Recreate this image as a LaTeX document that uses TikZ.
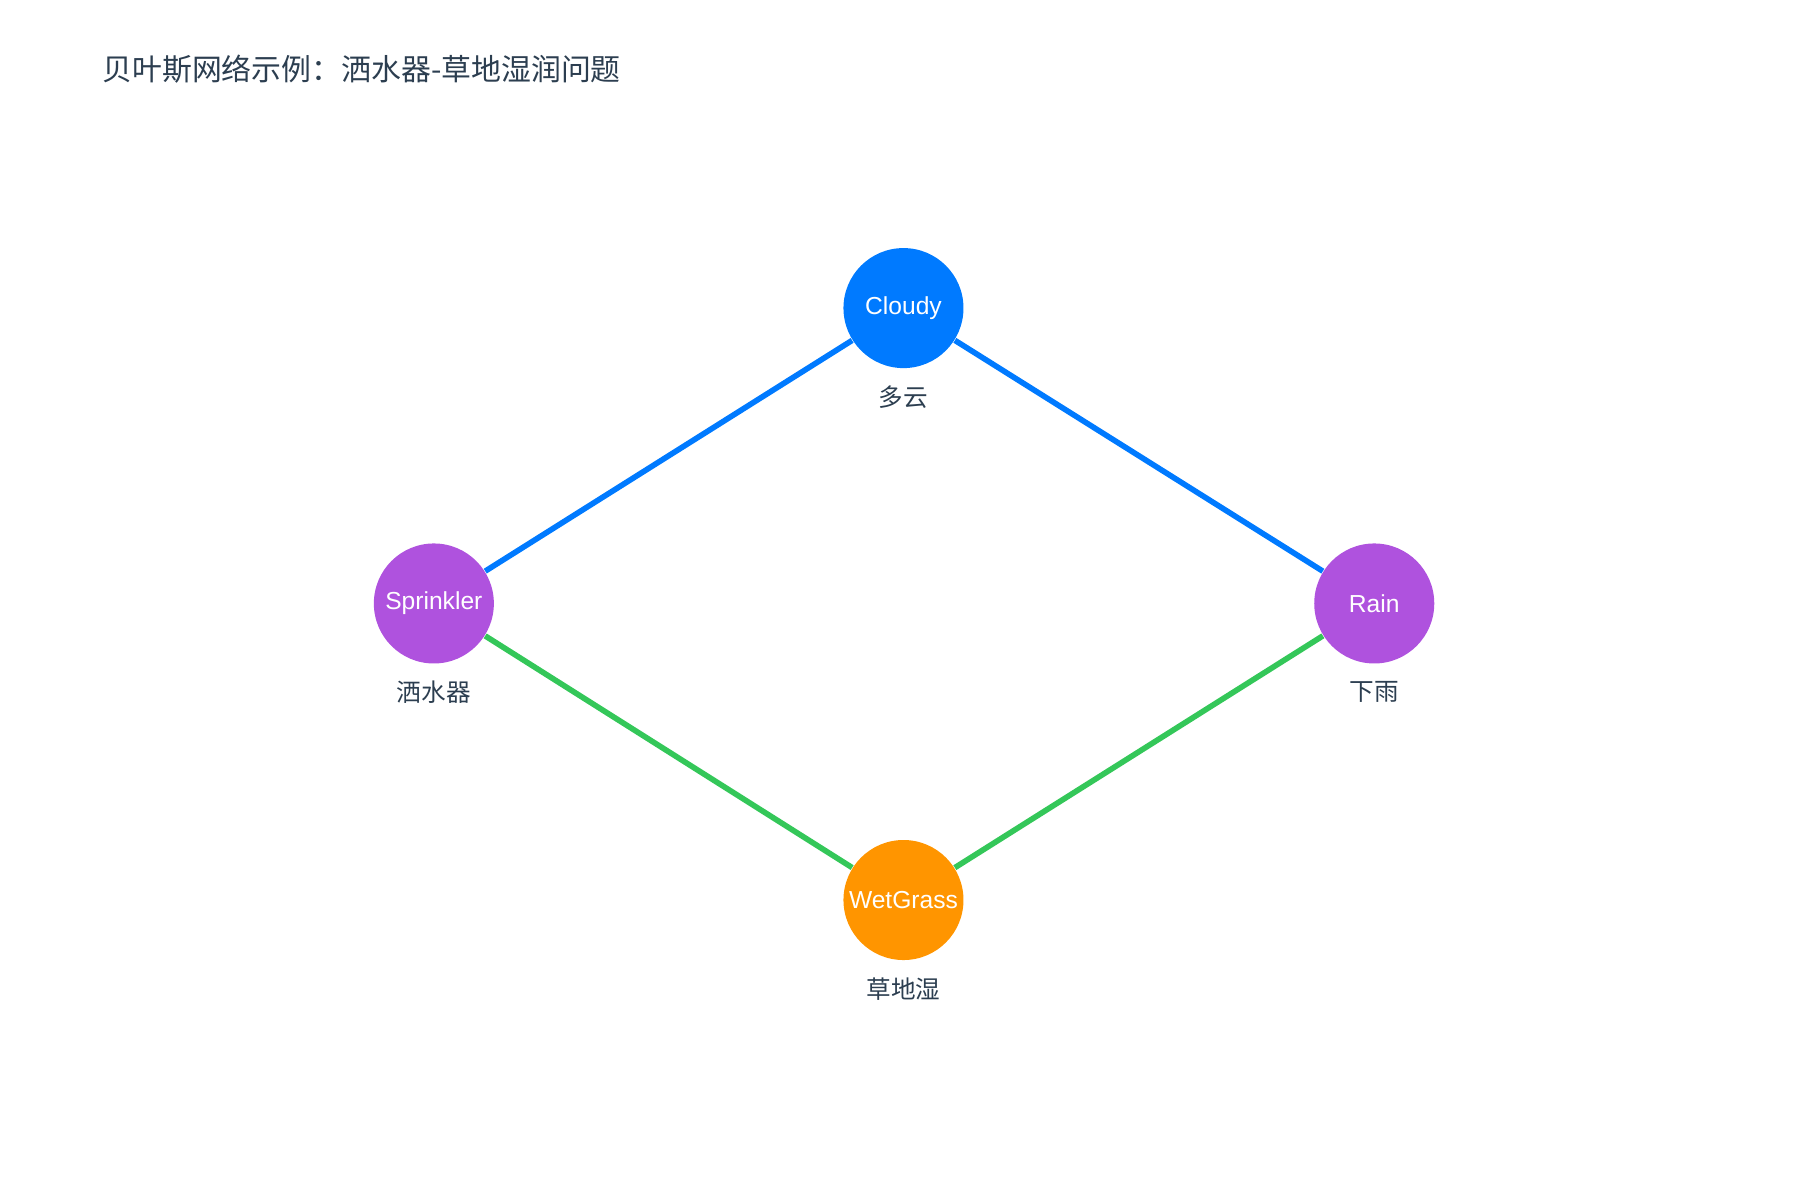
\documentclass[tikz,border=0pt]{standalone}
\usepackage{fontspec}
\setmainfont{Liberation Sans}
\newfontfamily\cjk{Noto Sans CJK SC}
\definecolor{cblue}{HTML}{007AFF}
\definecolor{cpurple}{HTML}{AF52DE}
\definecolor{corange}{HTML}{FF9500}
\definecolor{cgreen}{HTML}{34C759}
\definecolor{ctext}{HTML}{2C3E50}
\begin{document}
\begin{tikzpicture}[x=0.011538cm,y=-0.011538cm,
  vnode/.style={circle,minimum size=1.2cm,inner sep=0pt,text=white,font=\fontsize{7}{8}\selectfont},
  lbl/.style={text=ctext,font=\cjk\fontsize{7}{8}\selectfont},
  edge/.style={line width=1.6pt}]
\useasboundingbox (0,0) rectangle (1560,1040);
\node[anchor=west,text=ctext,font=\cjk\fontsize{8.5}{10}\selectfont] (title) at (78,60) {贝叶斯网络示例：洒水器-草地湿润问题};
\node[vnode,fill=cblue] (c) at (783,267) {Cloudy};
\node[vnode,fill=cpurple] (s) at (376,523) {Sprinkler};
\node[vnode,fill=cpurple] (r) at (1191,523) {Rain};
\node[vnode,fill=corange] (w) at (783,780) {WetGrass};
\node[lbl] (lc) at (783,344) {多云};
\node[lbl] (ls) at (376,600) {洒水器};
\node[lbl] (lr) at (1191,600) {下雨};
\node[lbl] (lw) at (783,857) {草地湿};
\begin{scope}[on background layer/.style={}]
\draw[edge,cblue] (c) -- (s);
\draw[edge,cblue] (c) -- (r);
\draw[edge,cgreen] (s) -- (w);
\draw[edge,cgreen] (r) -- (w);
\end{scope}
\end{tikzpicture}
\end{document}
